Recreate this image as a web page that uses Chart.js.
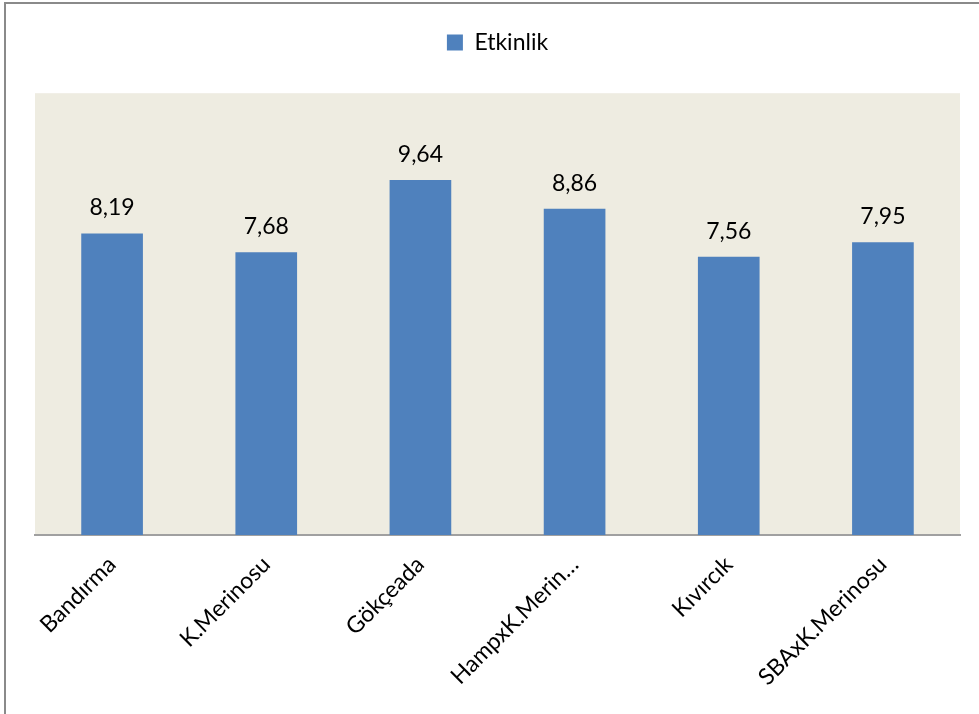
<!DOCTYPE html>
<html>
<head>
	<meta charset="UTF-8">
	<title>Etkinlik</title>
	<script src="https://cdn.jsdelivr.net/npm/chart.js@4.4.1/dist/chart.umd.min.js"></script>
	<style>
		html, body { margin: 0; padding: 0; background: #fff; }
		#wrap { position: relative; width: 979px; height: 714px; }
		#frame { position: absolute; left: 4px; top: 2px; right: 0; bottom: 0;
			border-top: 2px solid #8a8a8a; border-left: 2px solid #8a8a8a; pointer-events: none; }
	</style>
</head>
<body>
	<div id="wrap">
		<canvas id="chart_etkinlik" width="979" height="714"></canvas>
		<div id="frame"></div>
	</div>

	<script>
		var categories = ['Bandırma', 'K.Merinosu', 'Gökçeada', 'HampxK.Merin…', 'Kıvırcık', 'SBAxK.Merinosu'];
		var etkinlik = [8.19, 7.68, 9.64, 8.86, 7.56, 7.95];
		var seriesLabel = 'Etkinlik';

		var FONT = 'Lato, "Open Sans", sans-serif';

		// fond de la zona del gràfic
		var plotBackground = {
			id: 'plotBackground',
			beforeDraw: function(chart) {
				var a = chart.chartArea, ctx = chart.ctx;
				ctx.save();
				ctx.fillStyle = '#EEECE1';
				ctx.fillRect(a.left, a.top, a.right - a.left, a.bottom - a.top);
				ctx.restore();
			}
		};

		// valors sobre les barres
		var valueLabels = {
			id: 'valueLabels',
			afterDatasetsDraw: function(chart) {
				var ctx = chart.ctx;
				var meta = chart.getDatasetMeta(0);
				ctx.save();
				ctx.font = '23px ' + FONT;
				ctx.fillStyle = '#000';
				ctx.textAlign = 'center';
				ctx.textBaseline = 'bottom';
				meta.data.forEach(function(bar, i) {
					var txt = etkinlik[i].toFixed(2).replace('.', ',');
					ctx.fillText(txt, bar.x, bar.y - 14);
				});
				ctx.restore();
			}
		};

		var ctx = document.getElementById('chart_etkinlik').getContext('2d');
		var myChart = new Chart(ctx, {
			type: 'bar',
			data: {
				labels: categories,
				datasets: [{
					label: seriesLabel,
					data: etkinlik,
					backgroundColor: '#4F81BD',
					borderWidth: 0,
					barPercentage: 0.40,
					categoryPercentage: 1.0
				}]
			},
			options: {
				responsive: false,
				animation: false,
				layout: { padding: { left: 35, right: 19, top: 15, bottom: 0 } },
				plugins: {
					legend: {
						display: true,
						position: 'top',
						labels: {
							boxWidth: 16,
							boxHeight: 16,
							padding: 16,
							color: '#000',
							font: { family: FONT, size: 23 }
						}
					},
					// espai buit entre llegenda i gràfic
					subtitle: {
						display: true,
						text: '',
						weight: 500,
						font: { size: 1 },
						padding: { top: 0, bottom: 28 }
					},
					tooltip: { enabled: false }
				},
				scales: {
					x: {
						grid: { display: false },
						border: { display: true, color: '#A0A0A0', width: 2 },
						ticks: {
							color: '#000',
							font: { family: FONT, size: 23 },
							maxRotation: 45,
							minRotation: 45,
							padding: 8,
							autoSkip: false
						},
						afterFit: function(scale) { scale.height = 179; }
					},
					y: {
						display: false,
						min: 0,
						max: 12
					}
				}
			},
			plugins: [plotBackground, valueLabels]
		});
	</script>
</body>
</html>
